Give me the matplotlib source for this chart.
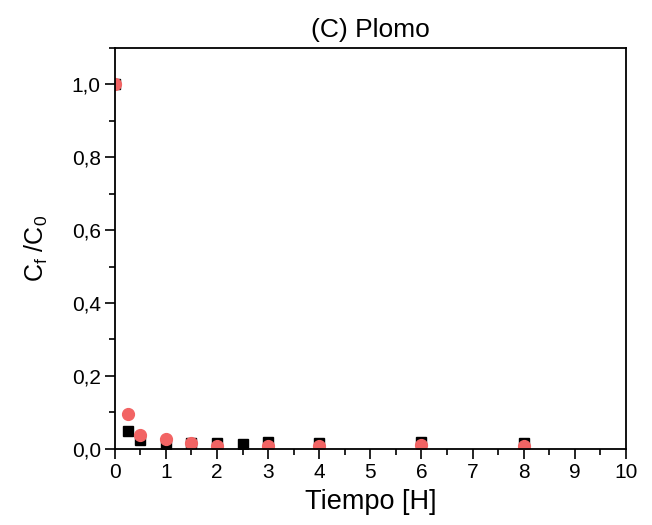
import matplotlib
matplotlib.use("Agg")
from matplotlib import pyplot as plt
from matplotlib.ticker import MultipleLocator, FuncFormatter

plt.rcParams['font.family'] = ['Liberation Sans', 'DejaVu Sans']

# black squares
t_sq = [0, 0.25, 0.5, 1.0, 1.5, 2.0, 2.5, 3.0, 4.0, 6.0, 8.0]
c_sq = [1.0, 0.048, 0.025, 0.013, 0.015, 0.016, 0.014, 0.018, 0.016, 0.018, 0.016]
# red circles
t_ci = [0, 0.25, 0.5, 1.0, 1.5, 2.0, 3.0, 4.0, 6.0, 8.0]
c_ci = [1.0, 0.096, 0.038, 0.026, 0.016, 0.008, 0.009, 0.009, 0.010, 0.009]


def main():
    fig = plt.figure(figsize=(6.52, 5.25), dpi=100)
    ax = fig.add_axes([0.176, 0.145, 0.784, 0.764])
    ax.plot(t_sq, c_sq, 's', color='black', markersize=7.5, linestyle='none')
    ax.plot(t_ci, c_ci, 'o', color='#f26464', markersize=8.5, linestyle='none')

    ax.set_xlim(0, 10)
    ax.set_ylim(0, 1.1)
    ax.xaxis.set_major_locator(MultipleLocator(1))
    ax.xaxis.set_minor_locator(MultipleLocator(0.5))
    ax.yaxis.set_major_locator(MultipleLocator(0.2))
    ax.yaxis.set_minor_locator(MultipleLocator(0.1))
    ax.yaxis.set_major_formatter(FuncFormatter(lambda v, p: ('%.1f' % v).replace('.', ',')))
    ax.tick_params(which='major', direction='out', length=7, width=1.2, labelsize=15, pad=3)
    ax.tick_params(which='minor', direction='out', length=4, width=1.2)
    for s in ax.spines.values():
        s.set_linewidth(1.3)

    ax.set_title('(C) Plomo', fontsize=19, pad=8)
    ax.set_xlabel('Tiempo [H]', fontsize=19.5, labelpad=5)
    ax.set_ylabel(r'C$_\mathregular{f}$ /C$_\mathregular{0}$', fontsize=18, labelpad=16)

    fig.savefig('out.png', dpi=100)


if __name__ == '__main__':
    main()
